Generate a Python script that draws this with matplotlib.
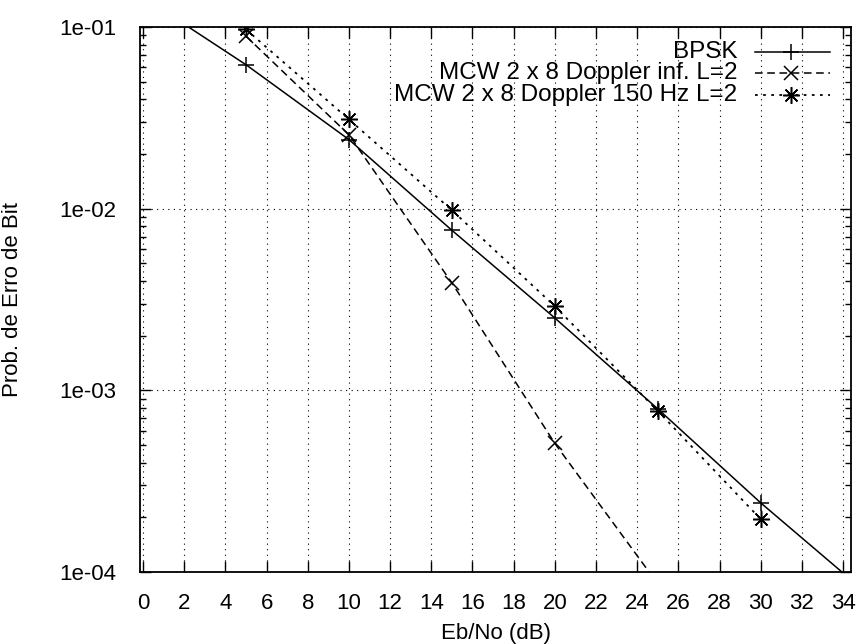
import numpy as np
import matplotlib
matplotlib.use('Agg')
import matplotlib.pyplot as plt
from matplotlib.ticker import FixedLocator, LogLocator, NullFormatter, FixedFormatter

plt.rcParams['font.family'] = ['Liberation Sans', 'DejaVu Sans']

# Eb/No (dB) and bit error probability
ebno_bpsk = [0, 5, 10, 15, 20, 25, 30, 35]
pb_bpsk = [0.146, 0.062, 0.0240, 0.0076, 0.0025, 0.00079, 0.00024, 0.000079]

ebno_inf = [5, 10, 15, 20, 25]
pb_inf = [0.089, 0.0255, 0.0039, 0.00051, 0.000086]

ebno_150 = [5, 10, 15, 20, 25, 30]
pb_150 = [0.097, 0.031, 0.0098, 0.0029, 0.00077, 0.000195]

labels = ['BPSK', 'MCW 2 x 8 Doppler inf. L=2', 'MCW 2 x 8 Doppler 150 Hz L=2']
xticks = list(range(0, 35, 2))
yticks = [1e-4, 1e-3, 1e-2, 1e-1]
ytick_labels = ['1e-04', '1e-03', '1e-02', '1e-01']

styles = [
    dict(linestyle='-', marker='+', markersize=12, lw=1.1),
    dict(linestyle=(0, (5, 3)), marker='x', markersize=10, lw=1.1),
    dict(linestyle=(0, (1.5, 3)), marker=(8, 2, 0), markersize=12, lw=1.3),
]

fig = plt.figure(figsize=(8.59, 6.44), dpi=100)
ax = fig.add_axes([0.163, 0.112, 0.828, 0.846])

series = [(ebno_bpsk, pb_bpsk), (ebno_inf, pb_inf), (ebno_150, pb_150)]
for (x, y), st in zip(series, styles):
    ax.plot(x, y, color='black', markeredgewidth=1.1, **st)

ax.set_yscale('log')
ax.set_xlim(-0.15, 34.4)
ax.set_ylim(1e-4, 1e-1)

ax.xaxis.set_major_locator(FixedLocator(xticks))
ax.yaxis.set_major_locator(FixedLocator(yticks))
ax.yaxis.set_major_formatter(FixedFormatter(ytick_labels))
ax.yaxis.set_minor_locator(LogLocator(base=10, subs=np.arange(2, 10)))
ax.yaxis.set_minor_formatter(NullFormatter())

ax.tick_params(which='both', direction='in', top=True, right=True, labelsize=16, colors='black')
ax.tick_params(which='major', length=8, width=1)
ax.tick_params(which='minor', length=4, width=1)
ax.tick_params(axis='x', pad=15)
ax.tick_params(axis='y', pad=17)

ax.grid(True, which='major', color='black', linestyle=(0, (1, 4)), lw=0.8)
for s in ax.spines.values():
    s.set_linewidth(1.3)

ax.set_xlabel('Eb/No (dB)', fontsize=16, labelpad=7)
ax.set_ylabel('Prob. de Erro de Bit', fontsize=16, labelpad=26)

# gnuplot-like key: right-aligned text, sample to the right
rows = [0.955, 0.915, 0.875]
for lab, st, yy in zip(labels, styles, rows):
    ax.text(0.84, yy, lab, transform=ax.transAxes, ha='right', va='center', fontsize=17.5)
    ax.plot([0.865, 0.97], [yy, yy], transform=ax.transAxes, color='black',
            linestyle=st['linestyle'], lw=st['lw'], clip_on=False)
    ax.plot([0.915], [yy], transform=ax.transAxes, color='black', linestyle='none',
            marker=st['marker'], markersize=st['markersize'], markeredgewidth=1.1, clip_on=False)

fig.savefig('out.png', dpi=100)
